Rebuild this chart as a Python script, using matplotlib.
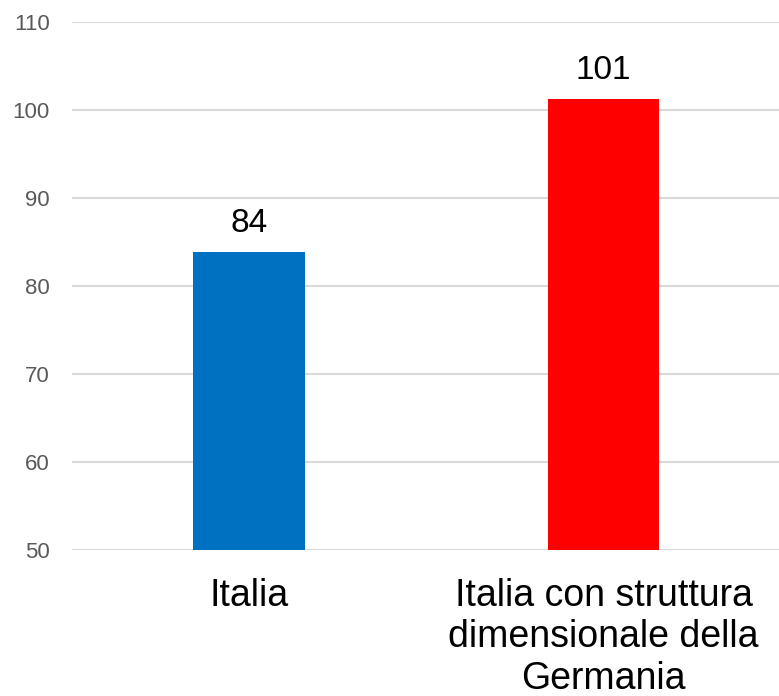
import matplotlib
matplotlib.use("Agg")
import matplotlib.pyplot as plt

# data
categories = ["Italia", "Italia con struttura\ndimensionale della\nGermania"]
values = [83.9, 101.3]
value_labels = ["84", "101"]
bar_colors = ["#0070C0", "#FF0000"]

plt.rcParams["font.family"] = ["Liberation Sans", "DejaVu Sans"]

fig = plt.figure(figsize=(7.79, 6.96), dpi=100)
ax = fig.add_axes([0.0924, 0.21, 0.91, 0.758])

x = range(len(categories))
bars = ax.bar(x, values, width=0.315, color=bar_colors, zorder=3)

for b, lab in zip(bars, value_labels):
    ax.text(b.get_x() + b.get_width() / 2, b.get_height() + 1.5, lab,
            ha="center", va="bottom", fontsize=24, color="black")

ax.set_ylim(50, 110)
ax.set_xlim(-0.5, 1.5)
ax.set_yticks(range(50, 111, 10))
ax.yaxis.grid(True, color="#d9d9d9", linewidth=1.5, zorder=0)
ax.set_axisbelow(True)

ax.set_xticks(list(x))
ax.set_xticklabels(categories, fontsize=27, color="black", linespacing=1.2)
ax.tick_params(axis="x", length=0, pad=20)
ax.tick_params(axis="y", length=0, pad=16, labelsize=16, labelcolor="#595959")

for s in ax.spines.values():
    s.set_visible(False)

fig.savefig("out.png", dpi=100)
